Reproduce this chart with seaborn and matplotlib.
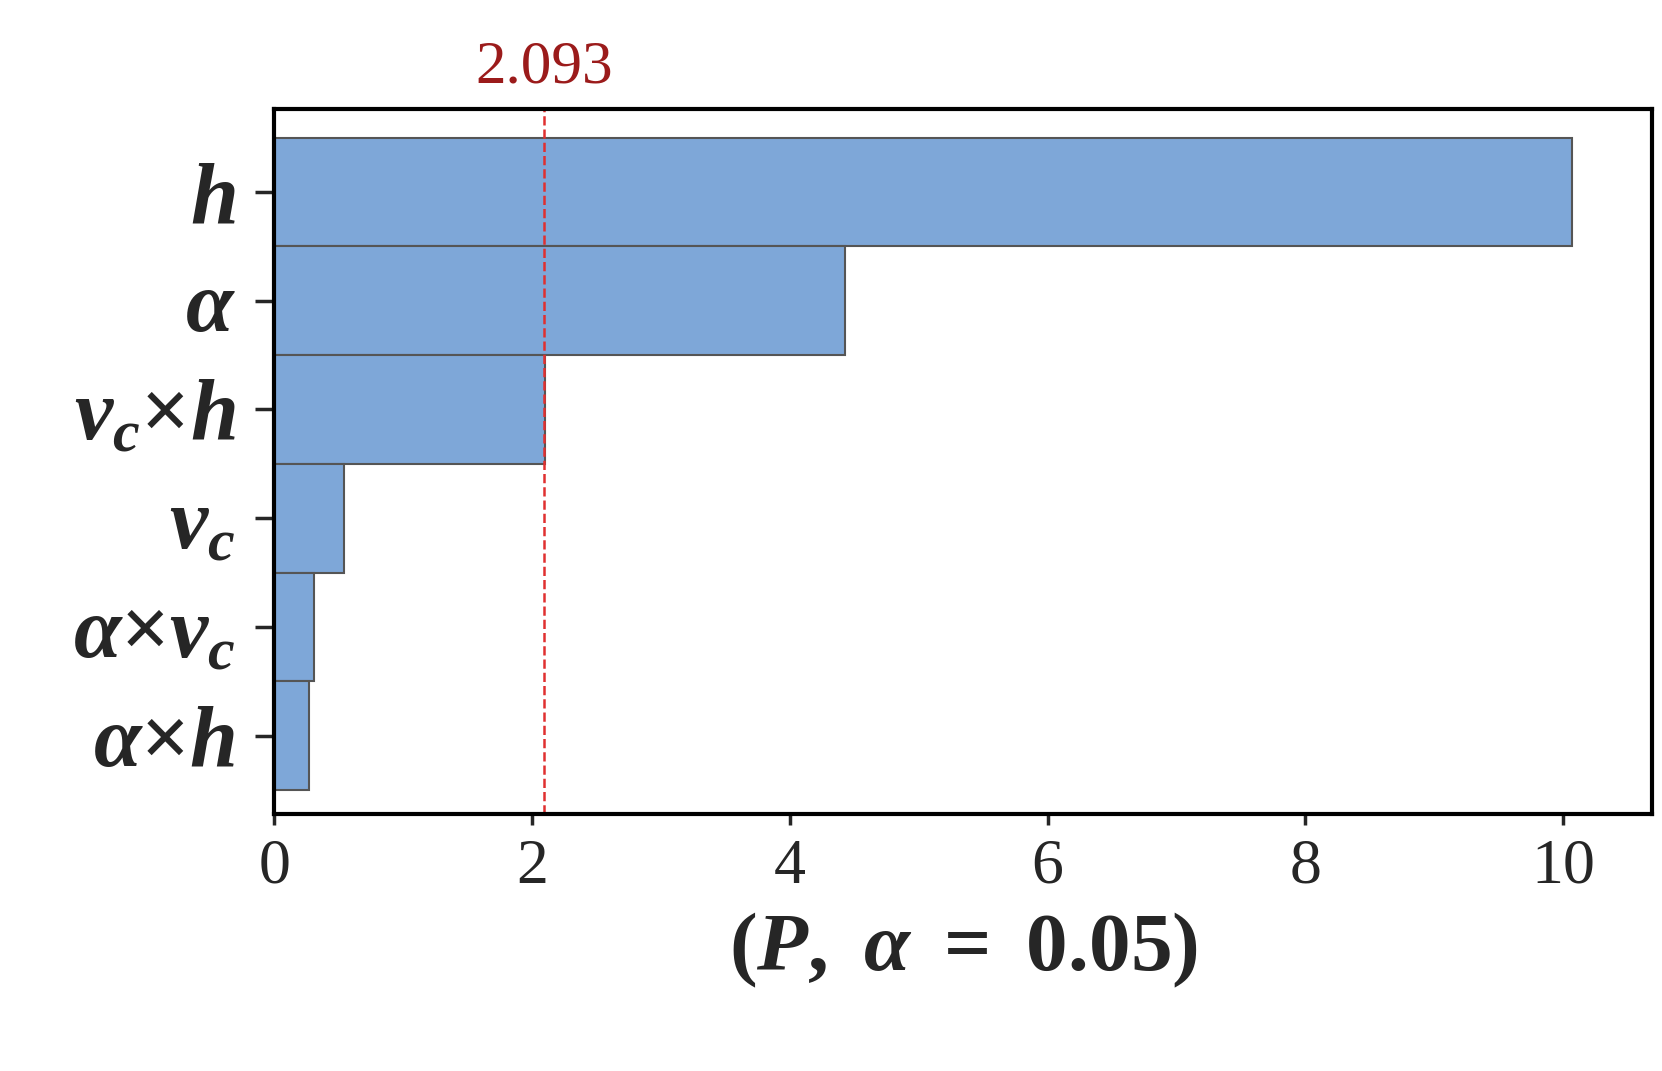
import matplotlib
matplotlib.use("Agg")
import matplotlib.pyplot as plt
import seaborn as sns
import pandas as pd

terms = [r"$\mathit{h}$", r"$\mathit{\alpha}$", r"$\mathit{v_c}\mathbf{\times}\mathit{h}$",
         r"$\mathit{v_c}$", r"$\mathit{\alpha}\mathbf{\times}\mathit{v_c}$", r"$\mathit{\alpha}\mathbf{\times}\mathit{h}$"]
effects = [10.07, 4.43, 2.10, 0.54, 0.31, 0.27]
threshold = 2.093
xticks = [0, 2, 4, 6, 8, 10]

sns.set_style("white")
plt.rcParams['font.family'] = ['Liberation Serif', 'DejaVu Serif']
plt.rcParams['mathtext.fontset'] = 'custom'
plt.rcParams['mathtext.it'] = 'Liberation Serif:italic:bold'
plt.rcParams['mathtext.bf'] = 'Liberation Serif:bold'
plt.rcParams['mathtext.rm'] = 'Liberation Serif:bold'

fig = plt.figure(figsize=(16.62, 10.71), dpi=100)
ax = fig.add_axes([0.165, 0.24, 0.829, 0.658])
df = pd.DataFrame({"term": terms, "effect": effects})
sns.barplot(data=df, x="effect", y="term", orient="h", width=1.0, color="#7ea7d8",
            saturation=1, edgecolor="#555555", linewidth=1.5, ax=ax)
ax.axvline(threshold, color="#e03030", linestyle="--", linewidth=1.8)
ax.text(threshold, 1.02, f"{threshold:.3f}", transform=ax.get_xaxis_transform(),
        ha="center", va="bottom", color="#9b1b1b", fontsize=44)
ax.set_xlim(0, 10.69)
ax.set_ylim(5.72, -0.76)
ax.set_xticks(xticks)
ax.set_xticklabels([str(t) for t in xticks], fontsize=46)
ax.tick_params(axis='y', labelsize=62, length=14, width=2.5, left=True, pad=14)
ax.tick_params(axis='x', length=8, width=2.5, bottom=True, pad=10)
ax.set_ylabel("")
ax.set_xlabel(r"$\mathbf{(}\mathit{P}\mathbf{,\ }\mathit{\alpha}\mathbf{\ =\ 0.05)}$", fontsize=60, labelpad=10)
for s in ax.spines.values():
    s.set_linewidth(3)
    s.set_color("black")
fig.savefig("out.png", dpi=100, facecolor="white")
